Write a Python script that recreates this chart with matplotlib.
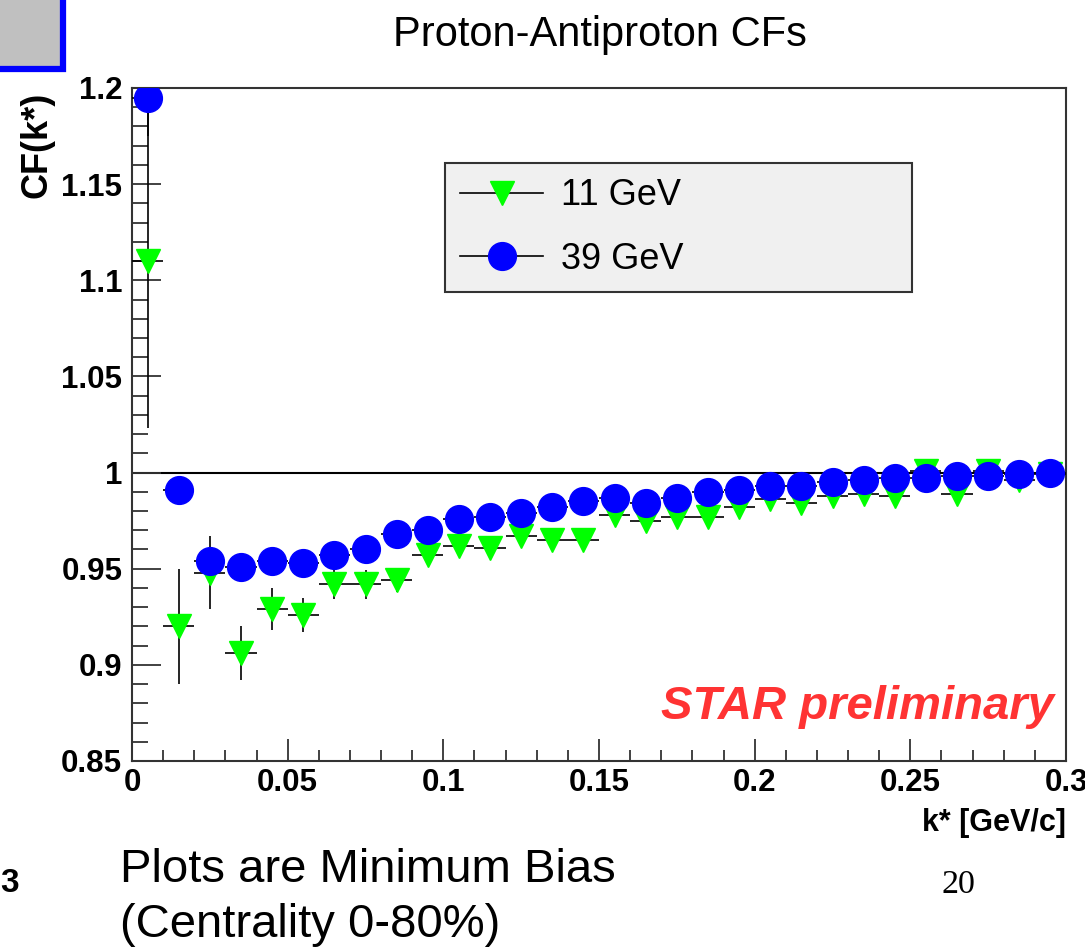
import matplotlib
matplotlib.use("Agg")
import matplotlib.pyplot as plt
from matplotlib.lines import Line2D
from matplotlib.patches import Rectangle
from matplotlib.ticker import MultipleLocator

# k* bin centres [GeV/c]
kstar = [0.005, 0.015, 0.025, 0.035, 0.045, 0.055, 0.065, 0.075, 0.085, 0.095,
         0.105, 0.115, 0.125, 0.135, 0.145, 0.155, 0.165, 0.175, 0.185, 0.195,
         0.205, 0.215, 0.225, 0.235, 0.245, 0.255, 0.265, 0.275, 0.285, 0.295]
kstar_err = [0.005] * 30

# 11 GeV
cf_11 = [1.110, 0.920, 0.948, 0.906, 0.929, 0.926, 0.942, 0.942, 0.944, 0.957,
         0.962, 0.961, 0.967, 0.965, 0.965, 0.978, 0.975, 0.977, 0.977, 0.982,
         0.986, 0.984, 0.988, 0.989, 0.988, 1.001, 0.989, 1.001, 0.996, 0.999]
cf_11_err = [0.087, 0.030, 0.019, 0.014, 0.011, 0.009, 0.008, 0.0075, 0.006, 0.005,
             0.005, 0.005, 0.004, 0.004, 0.004, 0.004, 0.004, 0.003, 0.003, 0.003,
             0.003, 0.003, 0.003, 0.003, 0.003, 0.003, 0.003, 0.003, 0.003, 0.003]

# 39 GeV
cf_39 = [1.195, 0.991, 0.954, 0.951, 0.954, 0.953, 0.957, 0.960, 0.968, 0.970,
         0.976, 0.977, 0.979, 0.982, 0.985, 0.987, 0.984, 0.987, 0.990, 0.991,
         0.993, 0.993, 0.995, 0.996, 0.997, 0.997, 0.998, 0.998, 0.999, 1.000]
cf_39_err = [0.02, 0.007, 0.005, 0.004, 0.004, 0.003, 0.003, 0.003, 0.003, 0.003,
             0.002, 0.002, 0.002, 0.002, 0.002, 0.002, 0.002, 0.002, 0.002, 0.002,
             0.002, 0.002, 0.002, 0.002, 0.002, 0.002, 0.002, 0.002, 0.002, 0.002]

W, H = 1085, 948
plt.rcParams['font.family'] = ['Liberation Sans', 'DejaVu Sans']


def fx(x):
    return x / W


def fy(y):
    return 1 - y / H


fig = plt.figure(figsize=(W / 100, H / 100), dpi=100)
ax = fig.add_axes([fx(132), fy(761), fx(1066) - fx(132), fy(88) - fy(761)])

ax.axhline(1.0, color="black", lw=1.5, zorder=1)

ax.errorbar(kstar, cf_11, xerr=kstar_err, yerr=cf_11_err, fmt="v", ms=17,
            mfc="#00ff00", mec="#00ff00", ecolor="black", elinewidth=1.2,
            capsize=0, zorder=3)
ax.errorbar(kstar, cf_39, xerr=kstar_err, yerr=cf_39_err, fmt="o", ms=20,
            mfc="#0000ff", mec="#0000ff", ecolor="black", elinewidth=1.2,
            capsize=0, zorder=4)

ax.set_xlim(0, 0.3)
ax.set_ylim(0.85, 1.2)
ax.xaxis.set_minor_locator(MultipleLocator(0.01))
ax.yaxis.set_minor_locator(MultipleLocator(0.01))
ax.set_xticks([0, 0.05, 0.1, 0.15, 0.2, 0.25, 0.3])
ax.set_xticklabels(["0", "0.05", "0.1", "0.15", "0.2", "0.25", "0.3"])
ax.set_yticks([0.85, 0.9, 0.95, 1.0, 1.05, 1.1, 1.15, 1.2])
ax.set_yticklabels(["0.85", "0.9", "0.95", "1", "1.05", "1.1", "1.15", "1.2"])

ax.tick_params(axis="both", which="both", direction="in", width=1.3,
               colors="#333333", labelcolor="black", labelsize=22.5)
ax.tick_params(axis="y", which="major", length=21, pad=7)
ax.tick_params(axis="y", which="minor", length=11.5)
ax.tick_params(axis="x", which="major", length=16, pad=5)
ax.tick_params(axis="x", which="minor", length=8)
for lab in ax.get_xticklabels() + ax.get_yticklabels():
    lab.set_fontweight("bold")
for sp in ax.spines.values():
    sp.set_linewidth(1.5)
    sp.set_color("#333333")

# titles and labels
fig.text(fx(600), fy(35), "Proton-Antiproton CFs", ha="center", va="center",
         fontsize=30)
fig.text(fx(37), fy(92), "CF(k*)", rotation=90, ha="center", va="top",
         fontsize=26, fontweight="bold")
fig.text(fx(1066), fy(823), "k* [GeV/c]", ha="right", va="center",
         fontsize=22, fontweight="bold")
fig.text(fx(1054), fy(707), "STAR preliminary", ha="right", va="center",
         fontsize=34, fontweight="bold", style="italic", color="#ff3333")

# legend
handles = [
    Line2D([], [], color="black", lw=1.2, marker="v", ms=17,
           mfc="#00ff00", mec="#00ff00"),
    Line2D([], [], color="black", lw=1.2, marker="o", ms=20,
           mfc="#0000ff", mec="#0000ff"),
]
leg = ax.legend(handles, ["11 GeV", "39 GeV"], loc="upper left",
                bbox_to_anchor=(fx(445), fy(289), fx(912) - fx(445), fy(163) - fy(289)),
                bbox_transform=fig.transFigure, mode="expand", fontsize=26,
                frameon=True, fancybox=False, facecolor="#f0f0f0",
                edgecolor="#333333", framealpha=1, handlelength=2.3,
                handletextpad=0.5, borderpad=0.42, labelspacing=0.8,
                borderaxespad=0)
leg.get_frame().set_linewidth(1.5)

# slide decorations
fig.patches.append(Rectangle((fx(-10), fy(69)), fx(73), fy(-10) - fy(69),
                             transform=fig.transFigure, facecolor="#c0c0c0",
                             edgecolor="#0000ff", lw=4.5, zorder=5))
fig.text(fx(120), fy(870), "Plots are Minimum Bias", ha="left", va="center",
         fontsize=34)
fig.text(fx(120), fy(925), "(Centrality 0-80%)", ha="left", va="center",
         fontsize=34)
fig.text(fx(958), fy(885), "20", ha="center", va="center", fontsize=24.5,
         family=["Liberation Serif", "DejaVu Serif"])
fig.text(fx(0), fy(883), "3", ha="left", va="center", fontsize=24,
         fontweight="bold")

fig.savefig("out.png", dpi=100)
